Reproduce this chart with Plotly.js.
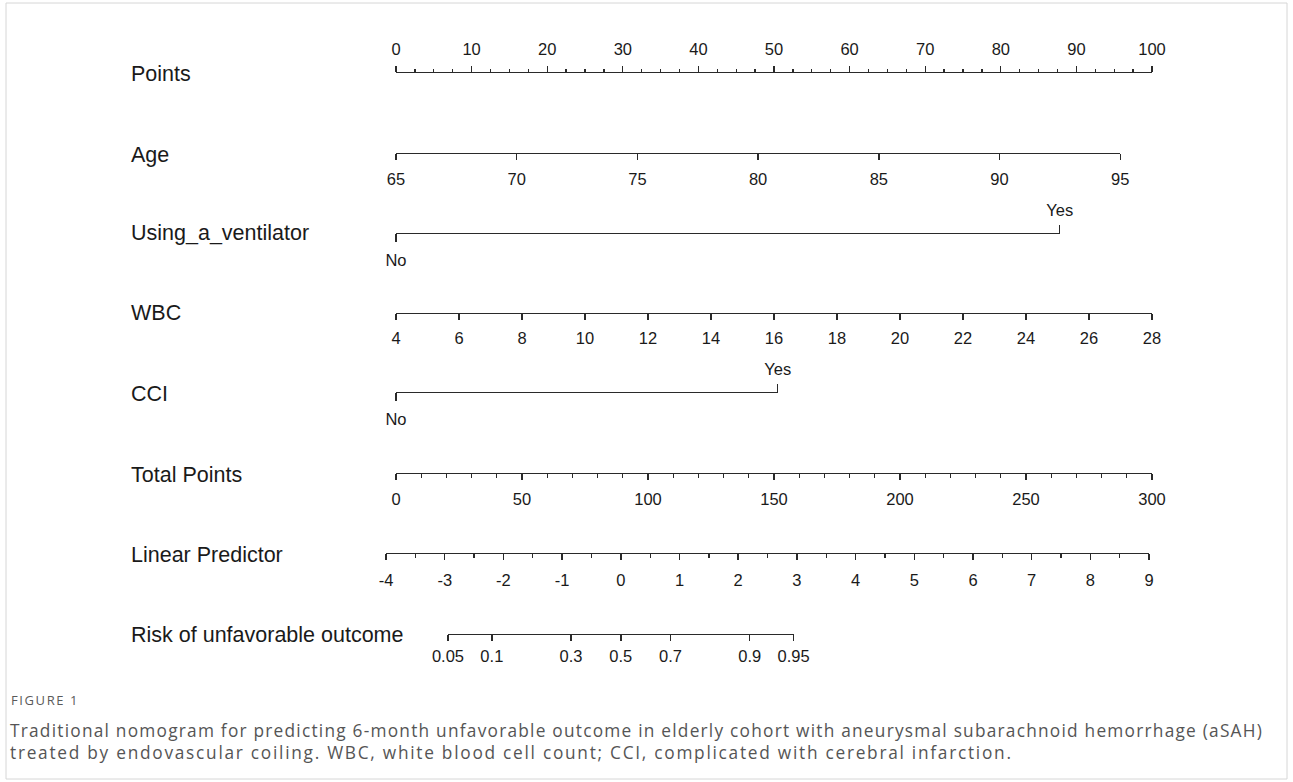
<!DOCTYPE html>
<html>
<head>
<meta charset="utf-8">
<script src="https://cdn.plot.ly/plotly-3.0.1.min.js"></script>
<style>
  html, body { margin: 0; padding: 0; background: #fff; }
  #chart { width: 1293px; height: 782px; }
  /* caption block uses a loosely tracked text face */
  #chart g.annotation[data-index="8"] text { letter-spacing: 1.6px; }
  #chart g.annotation[data-index="9"] text { letter-spacing: 1.23px; }
  #chart g.annotation[data-index="10"] text { letter-spacing: 1.73px; }
</style>
</head>
<body>
<div id="chart"></div>
<script>
// ---- Nomogram data: each predictor's scale and the points it spans ----
const pointTicks = [0, 10, 20, 30, 40, 50, 60, 70, 80, 90, 100];

const ageTicks = [65, 70, 75, 80, 85, 90, 95];
const agePoints = [0, 95.8];          // points at age 65 and age 95

const ventLabels = ['No', 'Yes'];
const ventPoints = [0, 87.8];         // points for No / Yes

const wbcTicks = [4, 6, 8, 10, 12, 14, 16, 18, 20, 22, 24, 26, 28];
const wbcPoints = [0, 100];           // points at WBC 4 and WBC 28

const cciLabels = ['No', 'Yes'];
const cciPoints = [0, 50.5];          // points for No / Yes

const totalTicks = [0, 50, 100, 150, 200, 250, 300];

const lpTicks = [-4, -3, -2, -1, 0, 1, 2, 3, 4, 5, 6, 7, 8, 9];
const lpAtTotal = [-3.83, 9.05];      // linear predictor at total points 0 and 300

const riskTicks = [0.05, 0.1, 0.3, 0.5, 0.7, 0.9, 0.95];

const rowNames = ['Points', 'Age', 'Using_a_ventilator', 'WBC', 'CCI',
                  'Total Points', 'Linear Predictor', 'Risk of unfavorable outcome'];

const captionLines = [
  'Traditional nomogram for predicting 6-month unfavorable outcome in elderly cohort with aneurysmal subarachnoid hemorrhage (aSAH)',
  'treated by endovascular coiling. WBC, white blood cell count; CCI, complicated with cerebral infarction.'
];

// ---- Page geometry (pixels) ----
const W = 1293, H = 782;
const X0 = 396, X100 = 1152;          // where 0 and 100 points sit
const rowLineY = [72, 153, 233, 313, 392, 473, 553, 634];
const rowLabelY = [74, 155, 233, 313, 394, 475, 555, 635];
const labelX = 129;
const captionY = [730, 752];

const px = p => (X0 + p * (X100 - X0) / 100) / W;   // points -> paper x
const py = y => 1 - y / H;                          // pixel y -> paper y

const totalMax = totalTicks[totalTicks.length - 1];
const lpSlope = (lpAtTotal[1] - lpAtTotal[0]) / totalMax;
const lpToPoints = lp => ((lp - lpAtTotal[0]) / lpSlope) * 100 / totalMax;
const logit = p => Math.log(p / (1 - p));

const tickFont = { family: 'Liberation Sans, Arial, sans-serif', size: 16.5, color: '#1a1a1a' };
const lineColor = '#2a2a2a';

function axis(opts) {
  const a = {
    anchor: 'free',
    position: py(opts.y),
    domain: opts.domain,
    range: opts.range,
    autorange: false,
    side: opts.side,
    showline: opts.showline !== false,
    linecolor: lineColor,
    linewidth: 1.4,
    ticks: 'outside',
    ticklen: opts.ticklen || 6,
    tickwidth: 1.4,
    tickcolor: lineColor,
    tickfont: tickFont,
    ticklabelstandoff: opts.standoff || 0,
    showgrid: false,
    zeroline: false,
    fixedrange: true,
    tickmode: 'array',
    tickvals: opts.tickvals,
    ticktext: opts.ticktext || opts.tickvals.map(String)
  };
  if (opts.minor) {
    a.minor = { dtick: opts.minor, tick0: opts.range[0], ticks: 'outside', ticklen: 3.5,
                tickwidth: 1.3, tickcolor: lineColor, showgrid: false };
  }
  return a;
}

const lpDomain = [px(lpToPoints(lpTicks[0])), px(lpToPoints(lpTicks[lpTicks.length - 1]))];
const riskRange = [logit(riskTicks[0]), logit(riskTicks[riskTicks.length - 1])];

const axes = [
  axis({ y: rowLineY[0], side: 'top', domain: [px(0), px(100)], range: [0, 100],
         tickvals: pointTicks, minor: 2.5, standoff: 4 }),
  axis({ y: rowLineY[1], side: 'bottom', domain: [px(agePoints[0]), px(agePoints[1])],
         range: [ageTicks[0], ageTicks[ageTicks.length - 1]], tickvals: ageTicks, standoff: 5 }),
  axis({ y: rowLineY[2], side: 'bottom', domain: [px(ventPoints[0]), px(ventPoints[1])],
         range: [0, 1], tickvals: [0], ticktext: [ventLabels[0]], ticklen: 8, standoff: 4 }),
  axis({ y: rowLineY[2], side: 'top', domain: [px(ventPoints[0]), px(ventPoints[1])],
         range: [0, 1], tickvals: [1], ticktext: [ventLabels[1]], ticklen: 8, showline: false, standoff: 2 }),
  axis({ y: rowLineY[3], side: 'bottom', domain: [px(wbcPoints[0]), px(wbcPoints[1])],
         range: [wbcTicks[0], wbcTicks[wbcTicks.length - 1]], tickvals: wbcTicks, standoff: 4 }),
  axis({ y: rowLineY[4], side: 'bottom', domain: [px(cciPoints[0]), px(cciPoints[1])],
         range: [0, 1], tickvals: [0], ticktext: [cciLabels[0]], ticklen: 8, standoff: 4 }),
  axis({ y: rowLineY[4], side: 'top', domain: [px(cciPoints[0]), px(cciPoints[1])],
         range: [0, 1], tickvals: [1], ticktext: [cciLabels[1]], ticklen: 8, showline: false, standoff: 2 }),
  axis({ y: rowLineY[5], side: 'bottom', domain: [px(0), px(100)], range: [0, totalMax],
         tickvals: totalTicks, minor: 10, standoff: 5 }),
  axis({ y: rowLineY[6], side: 'bottom', domain: lpDomain,
         range: [lpTicks[0], lpTicks[lpTicks.length - 1]], tickvals: lpTicks, minor: 0.5, standoff: 6 }),
  axis({ y: rowLineY[7], side: 'bottom', domain: [px(lpToPoints(riskRange[0])), px(lpToPoints(riskRange[1]))],
         range: riskRange, tickvals: riskTicks.map(logit), ticktext: riskTicks.map(String), standoff: 1 })
];

const layout = {
  width: W, height: H,
  margin: { l: 0, r: 0, t: 0, b: 0 },
  paper_bgcolor: '#fff', plot_bgcolor: 'rgba(0,0,0,0)',
  showlegend: false,
  yaxis: { domain: [0, 1], range: [0, 1], visible: false, fixedrange: true },
  annotations: [],
  shapes: [
    { type: 'rect', xref: 'paper', yref: 'paper', x0: 6 / W, x1: 1287 / W, y0: py(779), y1: py(3),
      line: { color: '#d6d6d6', width: 1 }, fillcolor: 'rgba(0,0,0,0)', layer: 'below' }
  ]
};

const traces = [];
axes.forEach((a, i) => {
  const key = i === 0 ? 'xaxis' : 'xaxis' + (i + 1);
  layout[key] = a;
  traces.push({
    type: 'scatter', mode: 'markers',
    x: a.range, y: [-1, -1],
    xaxis: i === 0 ? 'x' : 'x' + (i + 1), yaxis: 'y',
    marker: { opacity: 0 }, hoverinfo: 'skip', showlegend: false
  });
});

rowNames.forEach((name, i) => {
  layout.annotations.push({
    xref: 'paper', yref: 'paper', x: labelX / W, y: py(rowLabelY[i]),
    xanchor: 'left', yanchor: 'middle', showarrow: false, text: name,
    font: { family: 'Liberation Sans, Arial, sans-serif', size: 21.5, color: '#1a1a1a' }
  });
});

layout.annotations.push({
  xref: 'paper', yref: 'paper', x: 9 / W, y: py(700),
  xanchor: 'left', yanchor: 'middle', align: 'left', showarrow: false, text: 'FIGURE 1',
  font: { family: 'Open Sans, Noto Sans, sans-serif', size: 13, color: '#5a5a5a' }
});
captionLines.forEach((line, i) => {
  layout.annotations.push({
    xref: 'paper', yref: 'paper', x: 8 / W, y: py(captionY[i]),
    xanchor: 'left', yanchor: 'middle', align: 'left', showarrow: false, text: line,
    font: { family: 'Open Sans, Noto Sans, sans-serif', size: 17.3, color: '#555' }
  });
});

Plotly.newPlot('chart', traces, layout, { displayModeBar: false, staticPlot: true });
</script>
</body>
</html>
